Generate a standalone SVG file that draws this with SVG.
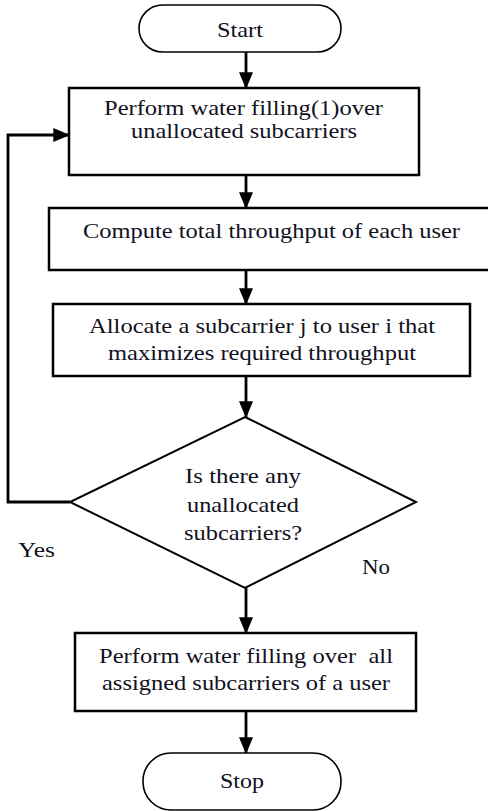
<svg xmlns="http://www.w3.org/2000/svg" width="488" height="811" viewBox="0 0 488 811">
<defs>
<style>
.box{fill:#fff;stroke:#000;stroke-width:2.5}
.term{fill:#fff;stroke:#000;stroke-width:1.6}
.dia{fill:#fff;stroke:#000;stroke-width:2}
.line{fill:none;stroke:#000;stroke-width:2.8}
text{font-family:'Liberation Serif','DejaVu Serif','Noto Serif','Times New Roman',Times,serif;font-size:22px;fill:#111122;text-anchor:middle}
.lbl{text-anchor:start}
</style>
<marker id="arr" markerWidth="6" markerHeight="5" refX="5.6" refY="2.5" orient="auto" markerUnits="strokeWidth">
<path d="M0,0 L6,2.5 L0,5 Z" fill="#000"/>
</marker>
</defs>
<rect width="488" height="811" fill="#fff"/>
<g id="connectors">
<line class="line" x1="246" y1="52" x2="246" y2="88" marker-end="url(#arr)"/>
<line class="line" x1="246" y1="175" x2="246" y2="208" marker-end="url(#arr)"/>
<line class="line" x1="246" y1="270" x2="246" y2="304" marker-end="url(#arr)"/>
<line class="line" x1="246" y1="376" x2="246" y2="417" marker-end="url(#arr)"/>
<polyline class="line" points="70,502 8,502 8,135 69,135" marker-end="url(#arr)"/>
<line class="line" x1="246" y1="588" x2="246" y2="633" marker-end="url(#arr)"/>
<line class="line" x1="246" y1="711" x2="246" y2="753" marker-end="url(#arr)"/>
</g>
<g id="start">
<rect class="term" x="139" y="5" width="202" height="47" rx="23.5"/>
<text x="240" y="37" textLength="46" lengthAdjust="spacingAndGlyphs">Start</text>
</g>
<g id="water1">
<rect class="box" x="69" y="88" width="350" height="87"/>
<text x="243.5" y="115" textLength="279" lengthAdjust="spacingAndGlyphs">Perform water filling(1)over</text>
<text x="244" y="138" textLength="226" lengthAdjust="spacingAndGlyphs">unallocated subcarriers</text>
</g>
<g id="compute">
<rect class="box" x="49" y="208" width="450" height="62"/>
<text x="271.5" y="238" textLength="377" lengthAdjust="spacingAndGlyphs">Compute total throughput of each user</text>
</g>
<g id="allocate">
<rect class="box" x="53" y="304" width="417" height="72"/>
<text x="262" y="333" textLength="346" lengthAdjust="spacingAndGlyphs">Allocate a subcarrier j to user i that</text>
<text x="262" y="360" textLength="308" lengthAdjust="spacingAndGlyphs">maximizes required throughput</text>
</g>
<g id="decision">
<polygon class="dia" points="245,417 416,502 245,588 70,502"/>
<text x="243" y="483" textLength="116" lengthAdjust="spacingAndGlyphs">Is there any</text>
<text x="243" y="512" textLength="112" lengthAdjust="spacingAndGlyphs">unallocated</text>
<text x="243" y="540" textLength="118" lengthAdjust="spacingAndGlyphs">subcarriers?</text>
</g>
<text class="lbl" x="18" y="557" textLength="37" lengthAdjust="spacingAndGlyphs">Yes</text>
<text class="lbl" x="362" y="574" textLength="28" lengthAdjust="spacingAndGlyphs">No</text>
<g id="water2">
<rect class="box" x="75" y="633" width="341" height="78"/>
<text x="246" y="663" textLength="294" lengthAdjust="spacingAndGlyphs" xml:space="preserve" style="white-space:pre">Perform water filling over  all</text>
<text x="246" y="690" textLength="288" lengthAdjust="spacingAndGlyphs">assigned subcarriers of a user</text>
</g>
<g id="stop">
<rect class="term" x="143" y="753" width="198" height="57" rx="28"/>
<text x="242" y="788" textLength="44" lengthAdjust="spacingAndGlyphs">Stop</text>
</g>
</svg>
